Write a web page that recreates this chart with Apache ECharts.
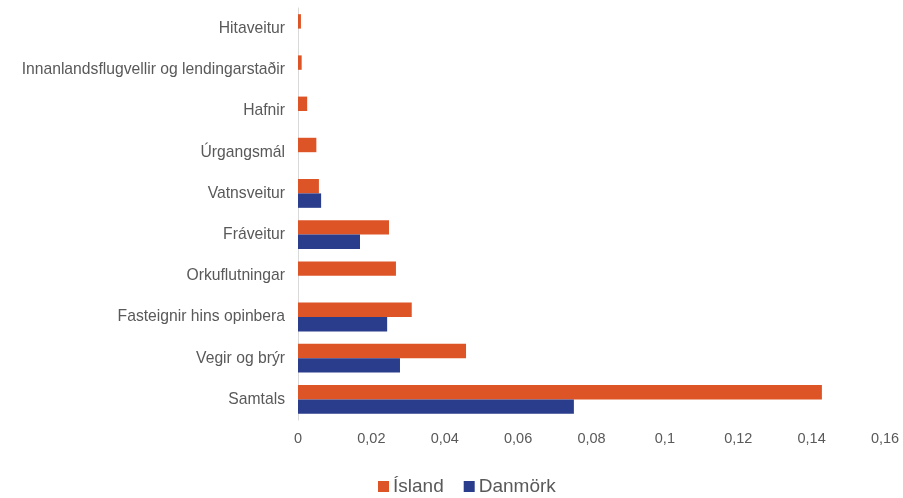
<!DOCTYPE html>
<html>
<head>
<meta charset="utf-8">
<script src="https://cdn.jsdelivr.net/npm/echarts@6/dist/echarts.min.js"></script>
<style>html,body{margin:0;padding:0;background:#fff}#c{width:903px;height:498px}</style>
</head>
<body>
<div id="c"></div>
<script>
const categories = ["Hitaveitur","Innanlandsflugvellir og lendingarstaðir","Hafnir","Úrgangsmál","Vatnsveitur","Fráveitur","Orkuflutningar","Fasteignir hins opinbera","Vegir og brýr","Samtals"];
const island = [0.0008,0.001,0.0025,0.005,0.0057,0.0248,0.0267,0.031,0.0458,0.1428];
const danmork = [null,null,null,null,0.0063,0.0169,null,0.0243,0.0278,0.0752];
const xTicks = {min:0,max:0.16,interval:0.02};

const chart = echarts.init(document.getElementById('c'));
const font = 'Liberation Sans, Arial, sans-serif';
chart.setOption({
  animation:false,
  grid:{left:298,right:18,top:8,bottom:78,containLabel:false},
  legend:{
    top:477,left:378,itemWidth:11,itemHeight:11,itemGap:20,icon:'rect',
    textStyle:{fontSize:19,color:'#595959',fontFamily:font,padding:[0,0,0,-1]},
    data:['Ísland','Danmörk'],padding:0
  },
  xAxis:{
    type:'value',min:xTicks.min,max:xTicks.max,interval:xTicks.interval,
    axisLine:{show:false},axisTick:{show:false},splitLine:{show:false},
    axisLabel:{color:'#595959',fontSize:14.5,fontFamily:font,margin:11,
      formatter:v=>String(+v.toFixed(2)).replace('.',',')}
  },
  yAxis:{
    type:'category',data:categories,inverse:true,
    axisLine:{show:true,lineStyle:{color:'#d9d9d9'}},axisTick:{show:false},
    axisLabel:{color:'#595959',fontSize:15.7,fontFamily:font,margin:13}
  },
  series:[
    {name:'Ísland',type:'bar',data:island,itemStyle:{color:'#DD5426'},barGap:'0%',barCategoryGap:'30%'},
    {name:'Danmörk',type:'bar',data:danmork,itemStyle:{color:'#293D8C'},barGap:'0%',barCategoryGap:'30%'}
  ]
});
</script>
</body>
</html>
